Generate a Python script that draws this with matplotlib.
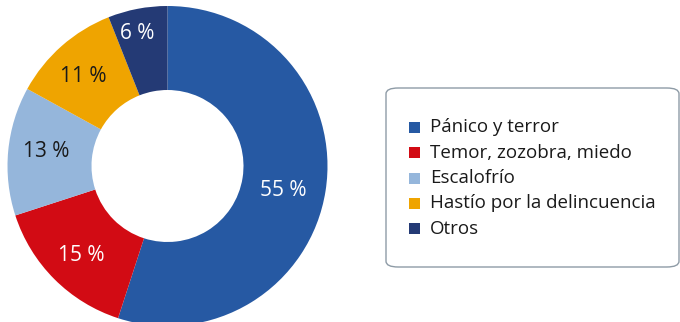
import matplotlib
matplotlib.use("Agg")
import matplotlib.pyplot as plt
import numpy as np
from matplotlib.patches import FancyBboxPatch, Rectangle

plt.rcParams["font.family"] = ["Open Sans", "DejaVu Sans"]

categories = ["Pánico y terror", "Temor, zozobra, miedo", "Escalofrío",
              "Hastío por la delincuencia", "Otros"]
shares = [55, 15, 13, 11, 6]
pct_labels = ["55 %", "15 %", "13 %", "11 %", "6 %"]

colors = ["#2659A3", "#D20B14", "#95B6DB", "#EFA400", "#243A75"]
label_colors = ["white", "white", "#1A1A1A", "#1A1A1A", "white"]
# label placement: radius (fraction of outer radius) and angular nudge (deg)
label_r = [0.74, 0.78, 0.765, 0.77, 0.85]
label_dang = [-2.7, 1.1, -1.2, 1.8, 2.1]

W, H = 680, 322
fig = plt.figure(figsize=(W / 100, H / 100), dpi=100)

# donut axes: centre at (167.5, 166) px from top-left, outer radius 160 px
cx, cy, R = 167.5, 166, 160
ax = fig.add_axes([(cx - R) / W, (H - cy - R) / H, 2 * R / W, 2 * R / H])
wedges, _ = ax.pie(shares, colors=colors, startangle=90, counterclock=False,
                   radius=1.0, wedgeprops=dict(width=0.525, linewidth=0))
ax.set_xlim(-1, 1)
ax.set_ylim(-1, 1)
ax.set_aspect("equal")
ax.axis("off")

for w, txt, tc, r, da in zip(wedges, pct_labels, label_colors, label_r, label_dang):
    mid = np.deg2rad((w.theta1 + w.theta2) / 2 + da)
    ax.text(r * np.cos(mid), r * np.sin(mid), txt, color=tc, fontsize=15,
            ha="center", va="center")

# legend box
bx0, by0, bx1, by1 = 386, 88, 679, 267
fig.patches.append(FancyBboxPatch(
    (bx0 / W, 1 - by1 / H), (bx1 - bx0) / W, (by1 - by0) / H,
    boxstyle="round,pad=0,rounding_size=0.018", transform=fig.transFigure,
    facecolor="white", edgecolor="#8E9BA6", linewidth=1.0))

row_y = [127, 152.5, 178, 203, 228.5]
for name, col, y in zip(categories, colors, row_y):
    fig.patches.append(Rectangle((409 / W, 1 - (y + 5.5) / H), 11 / W, 11 / H,
                                 transform=fig.transFigure, facecolor=col,
                                 edgecolor="none"))
    fig.text(430 / W, 1 - y / H, name, fontsize=13.5, color="#1A1A1A",
             ha="left", va="center")

fig.savefig("out.png", dpi=100)
